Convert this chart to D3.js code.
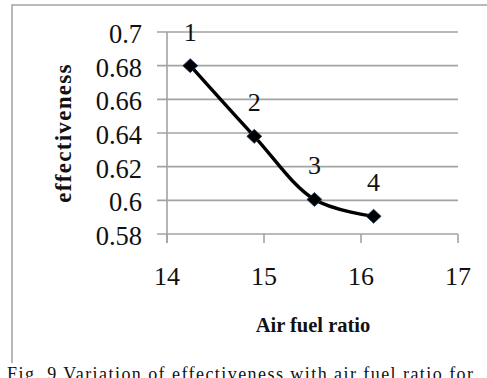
<!DOCTYPE html>
<html>
<head>
<meta charset="utf-8">
<script src="https://cdn.jsdelivr.net/npm/d3@7"></script>
<style>
html,body{margin:0;padding:0;background:#fff;}
svg{display:block;}
text{font-family:"Liberation Serif","Times New Roman",serif;fill:#111;}
</style>
</head>
<body>
<svg id="chart" width="487" height="378"></svg>
<script>
const airFuel = [14.24, 14.9, 15.52, 16.13];
const effectiveness = [0.68, 0.638, 0.6005, 0.5905];
const pointLabels = ["1", "2", "3", "4"];
const xTicks = [14, 15, 16, 17];
const yTicks = [0.58, 0.6, 0.62, 0.64, 0.66, 0.68, 0.7];
const yTickLabels = ["0.58", "0.6", "0.62", "0.64", "0.66", "0.68", "0.7"];
const xTitle = "Air fuel ratio";
const yTitle = "effectiveness";
const caption = "Fig. 9 Variation of effectiveness with air fuel ratio for";

const svg = d3.select("#chart");
const x = d3.scaleLinear().domain([14, 17]).range([167, 458]);
const y = d3.scaleLinear().domain([0.58, 0.70]).range([234, 32]);
const grid = "#a3a3a3";

// outer frame
svg.append("path").attr("d", "M12,363 V5 H487").attr("fill", "none")
  .attr("stroke", grid).attr("stroke-width", 1.5);

// gridlines + y ticks
svg.append("g").selectAll("line").data(yTicks).join("line")
  .attr("x1", 157).attr("x2", x(17)).attr("y1", d => y(d)).attr("y2", d => y(d))
  .attr("stroke", grid).attr("stroke-width", 1.6);

// y axis line
svg.append("line").attr("x1", x(14)).attr("x2", x(14)).attr("y1", y(0.7)).attr("y2", y(0.58) + 9)
  .attr("stroke", grid).attr("stroke-width", 1.6);

// x ticks
svg.append("g").selectAll("line").data(xTicks).join("line")
  .attr("x1", d => x(d)).attr("x2", d => x(d)).attr("y1", y(0.58)).attr("y2", y(0.58) + 9)
  .attr("stroke", grid).attr("stroke-width", 1.6);

// y tick labels
svg.append("g").selectAll("text").data(yTicks).join("text")
  .attr("x", 142).attr("y", d => y(d)).attr("dy", "0.42em")
  .attr("text-anchor", "end").attr("font-size", 26.5)
  .text((d, i) => yTickLabels[i]);

// x tick labels
svg.append("g").selectAll("text").data(xTicks).join("text")
  .attr("x", d => x(d)).attr("y", 285)
  .attr("text-anchor", "middle").attr("font-size", 26)
  .text(d => d);

// axis titles
svg.append("text").attr("x", 313).attr("y", 332).attr("text-anchor", "middle")
  .attr("font-size", 20.5).attr("font-weight", "bold").text(xTitle);
svg.append("text").attr("transform", "translate(71,133) rotate(-90)")
  .attr("text-anchor", "middle").attr("font-size", 23).attr("font-weight", "bold")
  .attr("letter-spacing", 1.3).text(yTitle);

// line
const pts = airFuel.map((d, i) => [d, effectiveness[i]]);
const line = d3.line().x(d => x(d[0])).y(d => y(d[1])).curve(d3.curveCatmullRom.alpha(0.5));
svg.append("path").attr("d", line(pts)).attr("fill", "none")
  .attr("stroke", "#000").attr("stroke-width", 3.4);

// markers
svg.append("g").selectAll("path").data(pts).join("path")
  .attr("transform", d => `translate(${x(d[0])},${y(d[1])})`)
  .attr("d", "M0,-7 L7.5,0 L0,7 L-7.5,0 Z")
  .attr("fill", "#000").attr("stroke", "#1f3a5f").attr("stroke-width", 0.8);

// point labels
svg.append("g").selectAll("text").data(pts).join("text")
  .attr("x", d => x(d[0])).attr("y", d => y(d[1]) - 25)
  .attr("text-anchor", "middle").attr("font-size", 26)
  .text((d, i) => pointLabels[i]);

// caption
svg.append("text").attr("x", 7).attr("y", 380).attr("font-size", 18)
  .attr("textLength", 466).attr("lengthAdjust", "spacing").text(caption);
</script>
</body>
</html>
